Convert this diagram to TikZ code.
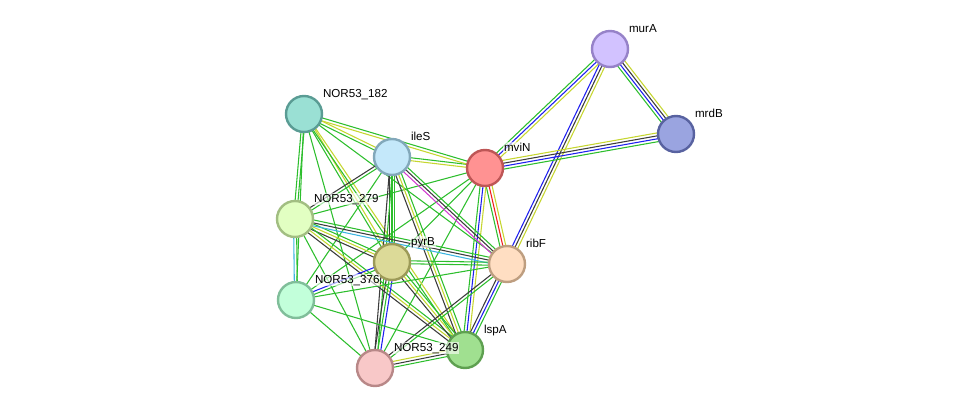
\documentclass[tikz,border=0pt]{standalone}
\usepackage{fontspec}
\setmainfont{Liberation Sans}
\usetikzlibrary{calc,backgrounds}

\definecolor{ecgreen}{RGB}{45,190,45}
\definecolor{ecyellow}{RGB}{198,214,48}
\definecolor{ecblack}{RGB}{60,60,60}
\definecolor{ecblue}{RGB}{30,30,240}
\definecolor{ecred}{RGB}{240,30,30}
\definecolor{ecpurple}{RGB}{210,60,210}
\definecolor{eccyan}{RGB}{60,180,225}

\tikzset{
  prot/.style={circle, minimum size=27pt, inner sep=0pt, line width=1.8pt},
  lbl/.style={anchor=base west, inner sep=0.6pt, fill=white, fill opacity=0.6, text opacity=1,
    font=\fontsize{8.7}{10}\selectfont},
  edge/.style={line width=0.8pt}
}

% parallel coloured lines between two proteins
\newcommand{\ppilink}[3]{%
  \foreach \c [count=\n] in {#3} {\xdef\nlines{\n}}%
  \foreach \c [count=\i] in {#3} {%
    \pgfmathsetmacro\off{(\i-(\nlines+1)/2)*2.2}%
    \draw[edge, color=\c] ($(#1.center)!\off pt!90:(#2.center)$) -- ($(#2.center)!\off pt!-90:(#1.center)$);
  }%
}

\begin{document}
\begin{tikzpicture}[x=0.75pt, y=-0.75pt]
    \useasboundingbox (0,0) rectangle (976,414);

    % proteins
    \node[prot, fill={rgb,255:red,210;green,194;blue,255}, draw={rgb,255:red,150;green,130;blue,200}] (murA) at (610,49) {};
    \node[prot, fill={rgb,255:red,154;green,164;blue,224}, draw={rgb,255:red,88;green,98;blue,160}] (mrdB) at (676,134) {};
    \node[prot, fill={rgb,255:red,255;green,146;blue,146}, draw={rgb,255:red,190;green,86;blue,86}] (mviN) at (485,168) {};
    \node[prot, fill={rgb,255:red,154;green,224;blue,212}, draw={rgb,255:red,90;green,156;blue,148}] (n182) at (304,114) {};
    \node[prot, fill={rgb,255:red,196;green,232;blue,250}, draw={rgb,255:red,130;green,168;blue,186}] (ileS) at (392,157) {};
    \node[prot, fill={rgb,255:red,226;green,255;blue,194}, draw={rgb,255:red,162;green,190;blue,130}] (n279) at (295,219) {};
    \node[prot, fill={rgb,255:red,220;green,218;blue,152}, draw={rgb,255:red,156;green,154;blue,88}] (pyrB) at (392,262) {};
    \node[prot, fill={rgb,255:red,255;green,222;blue,194}, draw={rgb,255:red,190;green,158;blue,128}] (ribF) at (507,264) {};
    \node[prot, fill={rgb,255:red,194;green,255;blue,218}, draw={rgb,255:red,128;green,190;blue,154}] (n376) at (296,300) {};
    \node[prot, fill={rgb,255:red,160;green,224;blue,144}, draw={rgb,255:red,94;green,160;blue,80}] (lspA) at (465,350) {};
    \node[prot, fill={rgb,255:red,248;green,200;blue,200}, draw={rgb,255:red,184;green,136;blue,136}] (n249) at (375,368) {};

    % names
    \node[lbl] (murA-l) at ([shift={(18,-17)}]murA.center) {murA};
    \node[lbl] (mrdB-l) at ([shift={(18,-17)}]mrdB.center) {mrdB};
    \node[lbl] (mviN-l) at ([shift={(18,-17)}]mviN.center) {mviN};
    \node[lbl] (n182-l) at ([shift={(18,-17)}]n182.center) {NOR53\_182};
    \node[lbl] (ileS-l) at ([shift={(18,-17)}]ileS.center) {ileS};
    \node[lbl] (n279-l) at ([shift={(18,-17)}]n279.center) {NOR53\_279};
    \node[lbl] (pyrB-l) at ([shift={(18,-17)}]pyrB.center) {pyrB};
    \node[lbl] (ribF-l) at ([shift={(18,-17)}]ribF.center) {ribF};
    \node[lbl] (n376-l) at ([shift={(18,-17)}]n376.center) {NOR53\_376};
    \node[lbl] (lspA-l) at ([shift={(18,-17)}]lspA.center) {lspA};
    \node[lbl] (n249-l) at ([shift={(18,-17)}]n249.center) {NOR53\_249};

    \begin{pgfonlayer}{background}
    % murA / mrdB
    \ppilink{murA}{mviN}{ecgreen,ecblue,ecyellow}
    \ppilink{murA}{ribF}{ecblue,ecblack,ecyellow}
    \ppilink{murA}{mrdB}{ecgreen,ecblue,ecblack,ecyellow}
    \ppilink{mviN}{mrdB}{ecgreen,ecblue,ecblack,ecyellow}
    % mviN
    \ppilink{mviN}{ribF}{ecgreen,ecred,ecyellow}
    \ppilink{mviN}{lspA}{ecgreen,ecblue,ecyellow}
    \ppilink{mviN}{ileS}{ecgreen,ecyellow}
    \ppilink{mviN}{n182}{ecgreen,ecyellow}
    \ppilink{mviN}{pyrB}{ecgreen}
    \ppilink{mviN}{n279}{ecgreen}
    \ppilink{mviN}{n376}{ecgreen}
    \ppilink{mviN}{n249}{ecgreen}
    % NOR53_182
    \ppilink{n182}{ileS}{ecgreen,ecyellow}
    \ppilink{n182}{n279}{ecgreen,ecgreen}
    \ppilink{n182}{pyrB}{ecgreen,ecyellow}
    \ppilink{n182}{lspA}{ecgreen,ecyellow}
    \ppilink{n182}{ribF}{ecgreen}
    \ppilink{n182}{n376}{ecgreen}
    \ppilink{n182}{n249}{ecgreen}
    % ileS
    \ppilink{ileS}{ribF}{ecpurple,ecblack,ecgreen}
    \ppilink{ileS}{lspA}{ecblack,ecyellow,ecgreen}
    \ppilink{ileS}{pyrB}{ecblack,ecgreen,ecgreen}
    \ppilink{ileS}{n249}{ecblack,ecgreen}
    \ppilink{ileS}{n279}{ecblack,ecgreen}
    \ppilink{ileS}{n376}{ecgreen}
    % NOR53_279
    \ppilink{n279}{pyrB}{ecblack,ecyellow,ecgreen}
    \ppilink{n279}{ribF}{eccyan,ecblack,ecgreen}
    \ppilink{n279}{lspA}{ecblack,ecyellow,ecgreen}
    \ppilink{n279}{n376}{eccyan,ecgreen}
    \ppilink{n279}{n249}{ecgreen}
    % pyrB
    \ppilink{pyrB}{lspA}{ecblack,ecyellow,ecgreen}
    \ppilink{pyrB}{n249}{ecblack,ecgreen,ecblue}
    \ppilink{pyrB}{n376}{ecblue,ecgreen}
    \ppilink{pyrB}{ribF}{ecgreen,ecgreen}
    % ribF
    \ppilink{ribF}{lspA}{ecblack,ecblue,ecgreen}
    \ppilink{ribF}{n249}{ecblack,ecgreen}
    \ppilink{ribF}{n376}{ecgreen}
    % NOR53_376, NOR53_249
    \ppilink{n376}{lspA}{ecgreen}
    \ppilink{n376}{n249}{ecgreen}
    \ppilink{n249}{lspA}{ecgreen,ecblack,ecyellow}
    \end{pgfonlayer}
\end{tikzpicture}
\end{document}
